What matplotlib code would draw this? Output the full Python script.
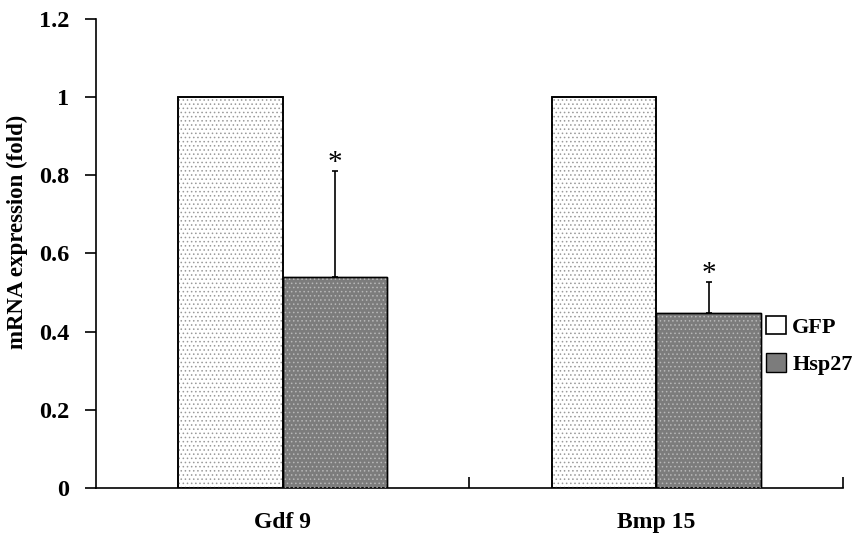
import numpy as np
import matplotlib.pyplot as plt

# data
genes = ["Gdf 9", "Bmp 15"]
gfp = [1.0, 1.0]
hsp27 = [0.54, 0.448]
hsp27_err = [0.272, 0.08]
stars = ["*", "*"]

plt.rcParams['font.family'] = ['Liberation Serif', 'DejaVu Serif']
plt.rcParams['font.weight'] = 'bold'

fig = plt.figure(figsize=(8.55, 5.36), dpi=100)
ax = fig.add_axes([0.112, 0.0896, 0.874, 0.875])

x = np.arange(len(genes)) + 0.5
w = 0.28

# base fills
b1 = ax.bar(x - w/2, gfp, w, color="white", edgecolor="black", linewidth=1.2, label="GFP", zorder=2)
b2 = ax.bar(x + w/2, hsp27, w, color="#7c7c7c", edgecolor="black", linewidth=1.0, label="Hsp27", zorder=2)
# dotted texture on top
plt.rcParams['hatch.linewidth'] = 0.6
ax.bar(x - w/2, gfp, w, color="none", edgecolor="#9a9a9a", hatch="....", linewidth=0, zorder=3)
ax.bar(x + w/2, hsp27, w, color="none", edgecolor="#b8b8b8", hatch="....", linewidth=0, zorder=3)
ax.bar(x - w/2, gfp, w, color="none", edgecolor="black", linewidth=1.2, zorder=4)
ax.bar(x + w/2, hsp27, w, color="none", edgecolor="black", linewidth=1.0, zorder=4)

ax.errorbar(x + w/2, hsp27, yerr=[np.zeros(len(hsp27)), hsp27_err], fmt="none",
            ecolor="black", elinewidth=1.2, capsize=2, capthick=1.2, zorder=5)
for xi, v, e, s in zip(x, hsp27, hsp27_err, stars):
    ax.text(xi + w/2, v + e - 0.015, s, ha="center", va="bottom", fontsize=21, fontweight="normal")

ax.set_xlim(0, 2)
ax.set_ylim(0, 1.2)
ax.set_yticks([0, 0.2, 0.4, 0.6, 0.8, 1.0, 1.2])
ax.set_yticklabels(["0", "0.2", "0.4", "0.6", "0.8", "1", "1.2"], fontsize=17.5, fontweight="bold")
ax.tick_params(axis="y", direction="out", length=8, width=1.2, pad=11)

ax.set_xticks([1, 2])
ax.set_xticklabels(["", ""])
ax.tick_params(axis="x", which="major", direction="in", length=8, width=1.2)
ax.set_xticks(x, minor=True)
ax.set_xticklabels(genes, minor=True, fontsize=17, fontweight="bold")
ax.tick_params(axis="x", which="minor", length=0, pad=17)

for s in ["top", "right"]:
    ax.spines[s].set_visible(False)
ax.spines["left"].set_linewidth(1.2)
ax.spines["bottom"].set_linewidth(1.2)

ax.set_ylabel("mRNA expression (fold)", fontsize=16.5, fontweight="bold")
ax.yaxis.set_label_coords(-0.091, 0.546)

leg = fig.legend(handles=[b1, b2], loc="center left", bbox_to_anchor=(0.885, 0.355), frameon=False,
                 prop={"size": 16, "weight": "bold"}, handlelength=0.9, handleheight=0.9,
                 handletextpad=0.3, labelspacing=0.7, borderaxespad=0)

plt.savefig("out.png", dpi=100)
